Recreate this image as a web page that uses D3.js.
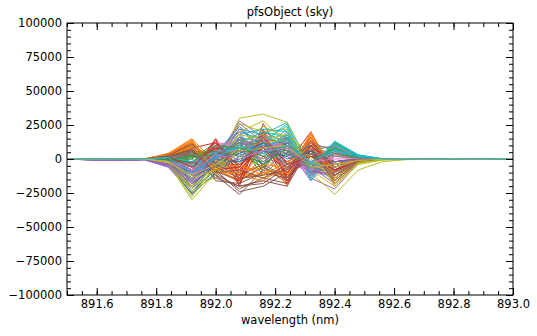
<!DOCTYPE html>
<html><head><meta charset="utf-8">
<script src="https://cdn.jsdelivr.net/npm/d3@7"></script>
<style>
body{margin:0;background:#fff;}
text{font-family:"DejaVu Sans",sans-serif;}
</style></head>
<body><svg id="chart" width="537" height="336"></svg>
<script>
const title = "pfsObject (sky)";
const xLabel = "wavelength (nm)";
const wavelength = [891.44,891.52,891.60,891.68,891.76,891.84,891.92,892.00,892.08,892.16,892.24,892.32,892.40,892.48,892.56,892.64,892.72,892.80,892.88,892.96,893.04];
const xTicks = [891.6,891.8,892.0,892.2,892.4,892.6,892.8,893.0];
const yTicks = [-100000,-75000,-50000,-25000,0,25000,50000,75000,100000];
const colors = ["#1f77b4","#ff7f0e","#2ca02c","#d62728","#9467bd","#8c564b","#e377c2","#7f7f7f","#bcbd22","#17becf"];
const fluxes = [
[100,-200,150,-100,300,1500,-18000,-6000,12000,8000,15000,-4000,9000,1500,200,100,-100,200,-150,100,0],
[-100,150,-200,100,-300,3000,14000,-9000,-15000,-5000,-18000,16000,-20000,-2000,300,-200,150,-100,250,-100,100],
[200,-100,100,-250,100,-2000,6000,4000,10000,-12000,5000,-3000,8000,2000,-200,100,-200,150,-100,200,-100],
[-150,100,-100,150,-200,-1000,-10000,15000,-12000,22000,-16000,12000,-6000,-1500,100,-150,100,-200,150,-100,200],
[100,-300,-800,-1000,-500,-6000,-25000,-2000,28000,16000,10000,-14000,-22000,-3000,-300,200,-100,100,-200,150,-100],
[-200,100,-100,200,-100,4000,10000,-12000,-26000,-8000,-12000,6000,-4000,1000,-200,100,-150,200,-100,50,-100],
[150,-150,200,-100,150,-3000,-14000,8000,5000,12000,-2000,-10000,6000,800,100,-100,200,-150,100,-200,150],
[-100,200,-150,100,-100,2000,-5000,-8000,14000,4000,20000,-8000,-12000,-1000,-100,150,-100,100,-150,100,-50],
[50,-100,100,-150,200,-3000,-30000,-10000,16000,6000,9000,4000,-8000,-2500,-500,100,-100,50,-100,100,0],
[-50,100,-100,50,-100,1000,-16000,2000,22000,18000,27000,-6000,13000,3000,200,-100,50,-100,100,-50,100],
[100,-100,200,-100,150,-1500,-22000,-4000,6000,14000,3000,8000,-10000,-1500,100,150,-100,100,-200,100,-100],
[-200,100,-150,200,-100,2500,12000,-5000,-18000,10000,-20000,18000,-6000,500,-100,100,-150,100,-100,150,-100],
[150,-200,100,-100,200,-500,-8000,10000,-6000,20000,12000,-12000,4000,1200,-150,-100,100,-50,150,-100,50],
[-100,150,-200,100,-150,1500,8000,12000,-20000,26000,-4000,20000,-14000,-2000,200,100,-100,150,-100,200,-150],
[200,-100,-600,-900,-300,-2500,-12000,6000,18000,-10000,8000,-16000,2000,1000,-100,-150,100,-100,200,-100,100],
[-150,200,-100,150,-200,3000,4000,-14000,-20000,-18000,-6000,10000,-18000,-2000,100,100,-200,100,-100,150,-100],
[100,-150,150,-200,100,-1000,-20000,3000,10000,6000,16000,-4000,-8000,-500,200,-100,150,-100,100,-150,100],
[-200,100,-100,150,-100,2000,10000,-2000,-8000,12000,-10000,6000,10000,1500,-100,100,-100,200,-100,100,-100],
[100,-150,200,-100,100,-4000,-26000,-6000,30000,33000,27000,-10000,-26000,-8000,-2000,-500,-200,100,-100,150,-100],
[-100,200,-150,100,-200,500,-12000,4000,24000,8000,22000,-12000,12000,2500,100,-100,100,-150,100,-100,150],
[150,-100,100,-200,100,-2000,-24000,-8000,8000,4000,12000,2000,-4000,-1000,-100,100,-150,100,-200,150,-100],
[-100,150,-100,100,-150,4000,15000,-3000,-10000,-14000,-8000,14000,-16000,-1500,200,-150,100,-100,150,-100,100],
[100,-200,150,-100,200,-1000,2000,8000,4000,-6000,14000,-10000,10000,1800,-100,100,-100,200,-100,100,-150],
[-150,100,-200,150,-100,1000,-4000,6000,-14000,18000,-12000,8000,-10000,-800,100,-100,150,-100,100,-200,100],
[100,-200,-700,-800,-400,-5000,-20000,0,26000,12000,6000,-8000,-14000,-2000,-200,150,-100,100,-150,100,-100],
[-100,150,-150,100,-200,3500,12000,-10000,-22000,-14000,-18000,12000,-2000,500,-100,100,-100,150,-200,100,-100],
[200,-100,100,-150,100,-2000,-10000,10000,12000,20000,4000,-14000,4000,1000,100,-100,150,-100,200,-150,100],
[-100,150,-200,100,-150,1500,-8000,-12000,16000,-4000,18000,-2000,-16000,-1500,-100,100,-100,150,-100,100,-50],
[150,-100,100,-200,150,-2500,-18000,-14000,10000,24000,16000,6000,-12000,-3000,-300,100,-150,100,-100,150,-100],
[-150,100,-100,150,-100,1500,-6000,6000,20000,14000,24000,-16000,10000,2800,200,-100,100,-100,150,-100,100],
[100,-150,200,-100,100,-1000,-14000,-2000,4000,18000,8000,4000,-6000,-1000,100,100,-100,150,-100,100,-150],
[-200,100,-100,150,-100,3000,13000,-7000,-16000,2000,-14000,20000,-12000,-1000,100,-100,150,-100,100,-150,100],
[100,-100,150,-200,100,-1500,0,12000,-2000,16000,10000,-6000,6000,1500,-100,150,-100,100,-200,100,-100],
[-100,200,-150,100,-200,500,-2000,9000,-18000,14000,-8000,16000,-8000,-1200,100,-100,100,-150,100,-100,150],
[150,-100,-500,-700,-200,-4000,-16000,4000,20000,-6000,14000,-12000,-4000,-500,-100,100,-150,100,-100,200,-100],
[-100,100,-150,200,-100,2000,8000,-16000,-18000,-10000,-14000,8000,-14000,-1500,100,-100,100,-100,150,-100,100],
[100,-200,100,-100,150,-1500,-17000,6000,8000,10000,12000,-8000,2000,500,100,100,-100,150,-100,100,-150],
[-150,100,-100,150,-100,1000,6000,-4000,-4000,16000,-14000,10000,8000,1200,-100,100,-150,100,-100,100,-100],
[100,-100,150,-100,100,-3500,-28000,-4000,26000,20000,22000,-8000,-20000,-4000,-800,-200,100,-100,150,-100,100],
[-100,150,-100,200,-150,800,-10000,0,18000,22000,20000,-10000,8000,2000,100,-100,100,-150,100,-100,100],
[200,-100,100,-150,100,-2500,-26000,-10000,2000,10000,6000,6000,-2000,-500,-100,100,-100,100,-150,100,-100],
[-100,100,-200,100,-150,3500,11000,-1000,-12000,-16000,-4000,16000,-18000,-2500,200,-100,150,-100,100,-100,100],
[150,-150,100,-100,200,-500,4000,5000,8000,-8000,16000,-12000,12000,2200,-200,100,-100,150,-100,150,-100],
[-100,100,-150,200,-100,1200,-6000,10000,-10000,14000,-18000,14000,-12000,-1800,100,-100,200,-100,100,-100,100],
[100,-150,-900,-1200,-600,-5500,-22000,2000,24000,4000,2000,-10000,-10000,-1500,-200,100,-100,150,-100,100,-100],
[-200,150,-100,100,-150,2500,9000,-8000,-24000,-20000,-10000,14000,-6000,0,-100,100,-150,100,-100,150,-100],
[150,-100,150,-100,100,-2500,-12000,9000,14000,8000,18000,-12000,8000,1500,100,-100,100,-100,150,-100,100],
[-100,200,-100,100,-200,1800,-3000,-10000,12000,6000,14000,-4000,-14000,-1800,-100,150,-100,100,-100,100,-150],
[100,-150,100,-150,100,-2000,-22000,-8000,14000,10000,4000,2000,-16000,-2000,-200,100,-100,100,-100,100,-100],
[-150,100,-100,100,-150,1200,-14000,3000,16000,12000,26000,-14000,11000,2600,200,-100,150,-100,100,-150,100],
[100,-100,150,-150,100,-1800,-20000,-3000,10000,16000,10000,-2000,-8000,-800,100,100,-100,100,-150,100,-100],
[-150,100,-150,100,-100,3200,12000,-4000,-14000,-10000,-12000,18000,-10000,-800,100,-150,100,-100,150,-100,100],
[100,-150,100,-200,150,-800,1000,7000,6000,4000,8000,-8000,9000,1600,-100,100,-100,150,-100,100,-100],
[-100,150,-100,150,-150,800,-8000,14000,-16000,20000,-14000,6000,-4000,-1000,100,-100,100,-100,150,-100,100],
[150,-100,-600,-1000,-400,-4500,-18000,-4000,22000,8000,16000,-6000,-18000,-2500,-200,100,-150,100,-100,150,-100],
[-100,150,-100,150,-100,2800,6000,-12000,-20000,-16000,-20000,10000,-10000,-1000,100,-100,100,-150,100,-100,100],
[100,-100,200,-100,150,-1200,-15000,7000,4000,14000,6000,-10000,6000,800,100,100,-150,100,-100,100,-100],
[-150,100,-150,100,-100,1500,4000,-6000,-6000,18000,-8000,12000,6000,1000,-100,100,-100,150,-100,100,-100],
[100,-100,100,-100,100,-3000,-24000,-12000,20000,28000,12000,0,-18000,-3500,-600,-100,100,-100,100,-100,100],
[-100,100,-150,100,-100,600,-8000,1000,12000,20000,16000,-8000,13000,3000,200,-100,100,-100,150,-100,100],
[0,100,-100,100,-100,800,-9000,3000,6000,-4000,10000,-6000,5000,1000,100,-100,100,-100,100,-100,0],
[100,-100,100,-100,100,2000,9000,-6000,-8000,6000,-6000,10000,-8000,-1200,-100,100,-100,100,-100,100,-100],
[-100,100,-100,100,-100,-1000,-6000,2000,14000,10000,6000,-4000,7000,1400,100,-100,100,-100,100,-100,100],
[100,-100,100,-100,150,1000,3000,-8000,-6000,12000,-2000,8000,-9000,-900,100,100,-100,100,-100,100,-100],
[-100,-200,-700,-900,-400,-3500,-14000,5000,10000,2000,-6000,-4000,-8000,-1200,-100,100,-100,100,-100,100,-100],
[100,-100,100,-100,100,2200,7000,-9000,-16000,-6000,-16000,6000,-8000,-600,100,-100,100,-100,100,-100,100],
[-100,100,-100,100,-100,-2000,-11000,4000,2000,8000,10000,-6000,3000,600,100,100,-100,100,-100,100,-100],
[100,-100,100,-100,100,1200,-2000,-6000,10000,2000,12000,-10000,-6000,-800,-100,-100,100,-100,100,-100,100],
[-100,100,-100,100,-100,-1500,-16000,-2000,18000,14000,18000,-4000,-10000,-1800,-300,100,-100,100,-100,100,-100],
[100,-100,100,-100,100,700,-4000,4000,10000,16000,12000,-6000,9000,2200,100,-100,100,-100,100,-100,100],
[-100,100,-100,100,-100,-1200,-12000,-6000,0,8000,-4000,4000,-4000,-600,100,100,-100,100,-100,100,-100],
[100,-100,100,-100,100,2800,10000,-2000,-6000,-8000,-10000,12000,-14000,-1800,100,-100,100,-100,100,-100,100],
[-100,100,-100,100,-100,-600,3000,6000,2000,-2000,12000,-8000,11000,1800,-100,100,-100,100,-100,100,-100],
[100,-100,100,-100,100,600,-3000,8000,-8000,10000,-6000,4000,-2000,-500,100,-100,100,-100,100,-100,100],
[-100,-100,-500,-800,-300,-3000,-10000,-6000,16000,6000,12000,-8000,-12000,-1800,-100,100,-100,100,-100,100,-100],
[100,-100,100,-100,100,1800,5000,-6000,-14000,-12000,-8000,4000,-12000,-1200,100,-100,100,-100,100,-100,100],
[-100,100,-100,100,-100,-1800,-8000,6000,6000,4000,14000,-4000,5000,900,100,100,-100,100,-100,100,-100],
[100,-100,100,-100,100,900,2000,-3000,-2000,10000,-6000,8000,4000,800,-100,-100,100,-100,100,-100,100],
[-100,100,-100,100,-100,-2800,-20000,-6000,12000,18000,8000,2000,-14000,-2800,-400,100,-100,100,-100,100,-100],
[100,-100,100,-100,100,900,-6000,2000,14000,6000,18000,-8000,6000,1600,100,-100,100,-100,100,-100,100],
[-100,100,-100,100,-100,-1600,-16000,0,-2000,6000,2000,10000,-6000,-900,100,100,-100,100,-100,100,-100],
[100,-100,100,-100,100,2400,8000,-8000,-4000,-12000,-2000,8000,-10000,-1400,100,-100,100,-100,100,-100,100],
[-100,100,-100,100,-100,-1200,-2000,10000,8000,2000,4000,-6000,4000,1000,-100,100,-100,100,-100,100,-100],
[100,-100,100,-100,100,1400,-10000,6000,-4000,8000,-10000,10000,-6000,-1100,100,-100,100,-100,100,-100,100],
[-100,-200,-800,-1100,-500,-4200,-14000,0,12000,10000,4000,-2000,-6000,-1000,-100,100,-100,100,-100,100,-100],
[100,-100,100,-100,100,2600,11000,-4000,-12000,-4000,-14000,2000,-2000,400,100,-100,100,-100,100,-100,100],
[-100,100,-100,100,-100,-1400,-6000,12000,10000,16000,8000,-8000,10000,1200,100,100,-100,100,-100,100,-100],
[100,-100,100,-100,100,1600,0,-14000,8000,0,10000,-6000,-10000,-1300,-100,-100,100,-100,100,-100,100],
[-100,100,-100,100,-100,-2200,-12000,-4000,8000,12000,14000,-2000,-6000,-1500,-200,100,-100,100,-100,100,-100],
[100,-100,100,-100,100,1100,-2000,5000,8000,10000,14000,-4000,11000,2400,100,-100,100,-100,100,-100,100],
[-100,100,-100,100,-100,-800,-10000,2000,4000,12000,0,6000,-2000,-400,100,100,-100,100,-100,100,-100],
[100,-100,100,-100,100,3400,14000,-10000,-10000,-4000,-6000,14000,-4000,-600,100,-100,100,-100,100,-100,100],
[-100,100,-100,100,-100,-900,2000,3000,12000,-4000,8000,-2000,8000,1300,-100,100,-100,100,-100,100,-100],
[100,-100,100,-100,100,1800,-6000,12000,-6000,16000,-4000,2000,-8000,-1400,100,-100,100,-100,100,-100,100],
[-100,-100,-600,-900,-400,-3800,-18000,2000,14000,-2000,10000,-10000,-2000,-700,-100,100,-100,100,-100,100,-100],
[100,-100,100,-100,100,2000,7000,-10000,-8000,-14000,-4000,6000,-16000,-1600,100,-100,100,-100,100,-100,100],
[-100,100,-100,100,-100,-1600,-9000,3000,0,6000,8000,-2000,0,300,100,100,-100,100,-100,100,-100],
[100,-100,100,-100,100,1300,4000,-2000,6000,14000,-4000,4000,2000,600,-100,-100,100,-100,100,-100,100],
[-100,100,-100,100,-100,-1800,-14000,-8000,6000,8000,10000,-6000,-4000,-1200,-200,100,-100,100,-100,100,-100],
[100,-100,100,-100,100,1000,-10000,1000,10000,4000,10000,-2000,7000,1800,100,-100,100,-100,100,-100,100]
];

const svg = d3.select("#chart");
const L = 67, R = 513, T = 23, B = 295;
const x = d3.scaleLinear().domain([891.5, 893.0]).range([L, R]);
const y = d3.scaleLinear().domain([-100000, 100000]).range([B, T]);

svg.append("defs").append("clipPath").attr("id","clip")
  .append("rect").attr("x",L).attr("y",T).attr("width",R-L).attr("height",B-T);

const line = d3.line().x((d,i)=>x(wavelength[i])).y(d=>y(d));
const g = svg.append("g").attr("clip-path","url(#clip)");
fluxes.forEach((s,i)=>{
  g.append("path").attr("d", line(s)).attr("fill","none")
   .attr("stroke", colors[i % colors.length]).attr("stroke-width",1)
   .attr("stroke-linejoin","round");
});

const fs = "11.5px";
const xMinor = d3.range(891.5, 893.0001, 0.05).map(v=>+v.toFixed(2));
const yMinor = d3.range(-100000, 100001, 5000);

function styleAxis(sel){
  sel.select(".domain").remove();
  sel.selectAll("line").attr("stroke","#000").attr("stroke-width",1);
  sel.selectAll("text").attr("fill","#000").style("font-size",fs).style("font-family","DejaVu Sans");
}
svg.append("g").attr("transform",`translate(0,${B})`)
  .call(d3.axisBottom(x).tickValues(xMinor).tickSize(-4).tickFormat("")).call(styleAxis);
svg.append("g").attr("transform",`translate(0,${B})`)
  .call(d3.axisBottom(x).tickValues(xTicks).tickSizeInner(-7).tickSizeOuter(0).tickPadding(5).tickFormat(d3.format(".1f"))).call(styleAxis);
svg.append("g").attr("transform",`translate(0,${T})`)
  .call(d3.axisTop(x).tickValues(xMinor).tickSize(-4).tickFormat("")).call(styleAxis);
svg.append("g").attr("transform",`translate(0,${T})`)
  .call(d3.axisTop(x).tickValues(xTicks).tickSize(-7).tickFormat("")).call(styleAxis);
svg.append("g").attr("transform",`translate(${L},0)`)
  .call(d3.axisLeft(y).tickValues(yMinor).tickSize(-4).tickFormat("")).call(styleAxis);
svg.append("g").attr("transform",`translate(${L},0)`)
  .call(d3.axisLeft(y).tickValues(yTicks).tickSizeInner(-7).tickSizeOuter(0).tickPadding(5).tickFormat(d3.format("d"))).call(styleAxis);
svg.append("g").attr("transform",`translate(${R},0)`)
  .call(d3.axisRight(y).tickValues(yMinor).tickSize(-4).tickFormat("")).call(styleAxis);
svg.append("g").attr("transform",`translate(${R},0)`)
  .call(d3.axisRight(y).tickValues(yTicks).tickSize(-7).tickFormat("")).call(styleAxis);

svg.append("rect").attr("x",L).attr("y",T).attr("width",R-L).attr("height",B-T)
  .attr("fill","none").attr("stroke","#000").attr("stroke-width",1);

svg.append("text").attr("x",(L+R)/2).attr("y",16).attr("text-anchor","middle")
  .style("font-size",fs).text(title);
svg.append("text").attr("x",(L+R)/2).attr("y",324).attr("text-anchor","middle")
  .style("font-size",fs).text(xLabel);
</script></body></html>
